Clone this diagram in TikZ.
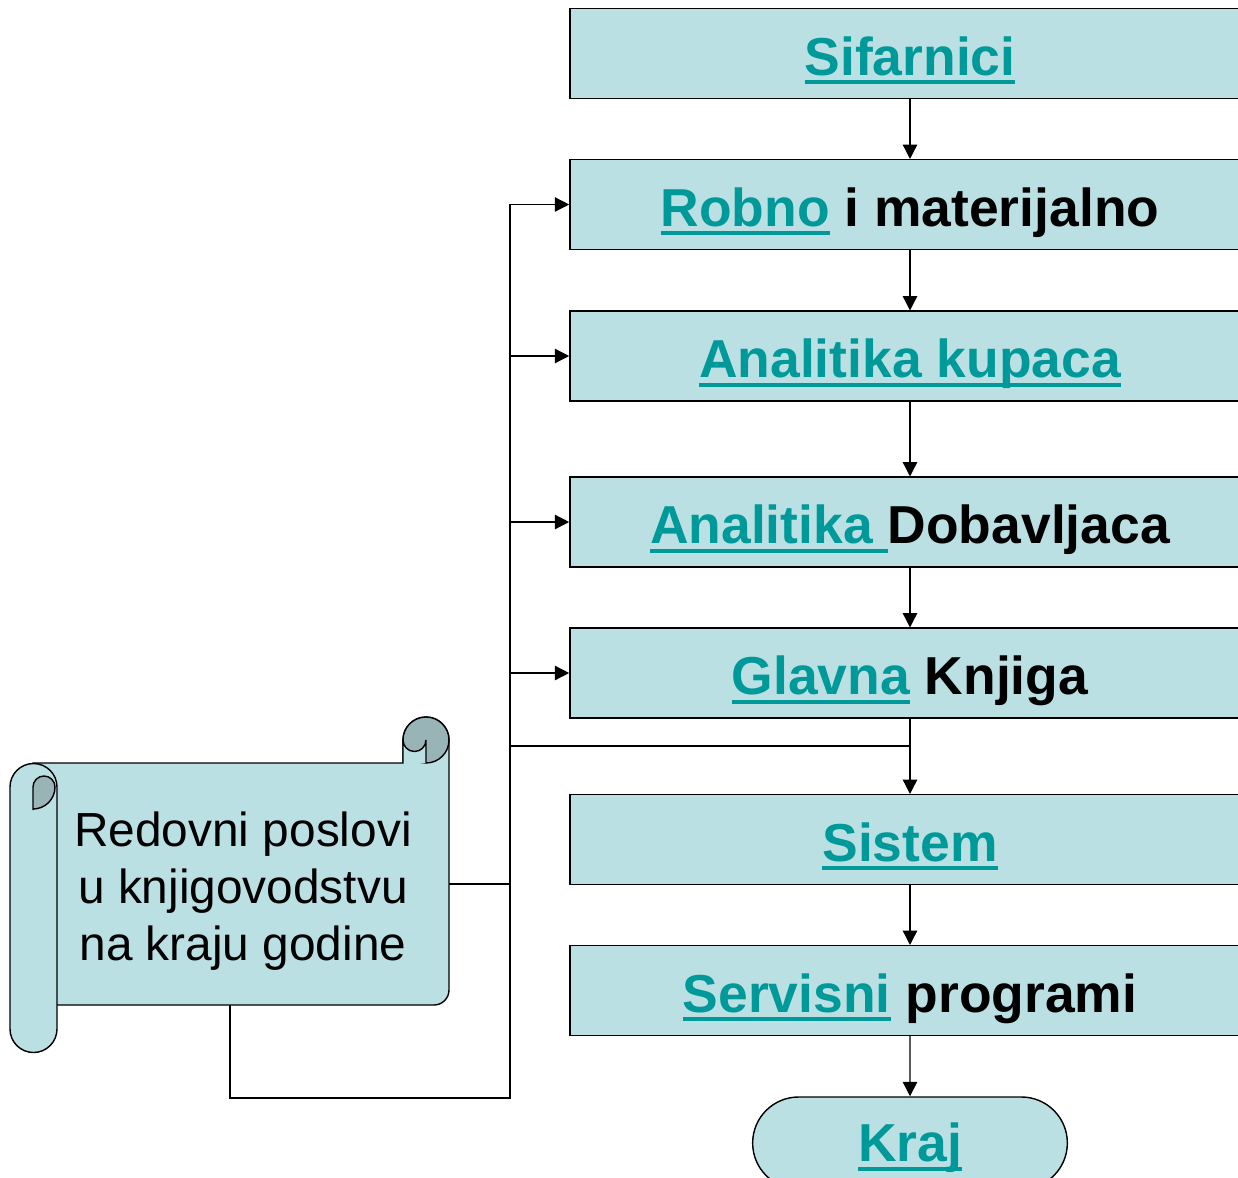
\documentclass[tikz,border=0pt]{standalone}
\usepackage{fontspec}
\setmainfont{Liberation Sans}
\usetikzlibrary{arrows.meta, positioning, shapes.misc}
\definecolor{boxfill}{HTML}{BBE0E3}
\definecolor{linkteal}{HTML}{009999}
\definecolor{curlgray}{HTML}{98B4B7}
\newcommand{\lnk}[1]{{\color{linkteal}\setbox0=\hbox{#1}\rlap{\rule[-0.17em]{\wd0}{0.075em}}\box0}}

\begin{document}
\begin{tikzpicture}[x=0.025cm, y=-0.025cm, line width=1pt,
  stepbox/.style={draw, fill=boxfill, minimum width=17cm, minimum height=2.24cm,
    text height=38pt, text depth=7.2pt, font=\fontsize{38}{45}\selectfont\bfseries},
  arr/.style={-{Triangle[length=0.36cm,width=0.36cm]}}]
\clip (0,0) rectangle (1238,1178);
% Draw the chain of boxes
\node[stepbox] (sif) at (910,53.5) {\lnk{Sifarnici}};
\node[stepbox] (robno) at (910,204.5) {\lnk{Robno} i materijalno};
\node[stepbox] (kupci) at (910,356) {\lnk{Analitika kupaca}};
\node[stepbox] (dobav) at (910,522) {\lnk{Analitika\ }Dobavljaca};
\node[stepbox] (glavna) at (910,673) {\lnk{Glavna} Knjiga};
\node[stepbox] (sistem) at (910,839.5) {\lnk{Sistem}};
\node[stepbox] (servis) at (910,990.5) {\lnk{Servisni} programi};
\node[stepbox, rounded rectangle, minimum width=8.1cm, minimum height=2.3cm,
  text height=34pt] (kraj) at (910,1143) {\lnk{Kraj}};
% Arrows down the chain
\draw[arr] (sif) -- (robno);
\draw[arr] (robno) -- (kupci);
\draw[arr] (kupci) -- (dobav);
\draw[arr] (dobav) -- (glavna);
\draw[arr] (glavna) -- (sistem);
\draw[arr] (sistem) -- (servis);
\draw[arr] (servis) -- (kraj);
% Draw the scroll
\draw[fill=boxfill] (33,763) -- (403,763) -- (403,740) arc[start angle=180, end angle=360, radius=23]
  -- (449,990) arc[start angle=0, end angle=90, radius=15] -- (33,1005) -- cycle;
\draw[fill=boxfill] (10,787) arc[start angle=180, end angle=360, radius=23.5]
  -- (57,1029) arc[start angle=0, end angle=180, radius=23.5] -- cycle;
\draw[fill=curlgray] (33,810) -- (33,787) arc[start angle=180, end angle=360, radius=11]
  arc[start angle=0, end angle=90, radius=22] -- cycle;
\draw[fill=curlgray] (426,740) circle[radius=23];
\fill[boxfill] (403,740) arc[start angle=180, end angle=0, radius=11.5] -- (426,763) -- (403,763) -- cycle;
\draw (403,763) -- (403,740) arc[start angle=180, end angle=0, radius=11.5] -- (426,763);
\node[align=center, font=\fontsize{34}{40.5}\selectfont] (redovni) at (243,891)
  {Redovni poslovi\\u knjigovodstvu\\na kraju godine};
\coordinate (scrolleast) at (449,884);
\coordinate (scrollfoot) at (230,1005);
% Bus on the left
\coordinate (bus) at (510,1098);
\coordinate (join) at (910,746);
\draw[arr] (scrollfoot) |- (bus) |- (robno.west);
\draw (scrolleast) -- (bus |- scrolleast);
\draw[arr] (bus |- kupci.west) -- (kupci.west);
\draw[arr] (bus |- dobav.west) -- (dobav.west);
\draw[arr] (bus |- glavna.west) -- (glavna.west);
\draw (bus |- join) -- (join);
\end{tikzpicture}
\end{document}
